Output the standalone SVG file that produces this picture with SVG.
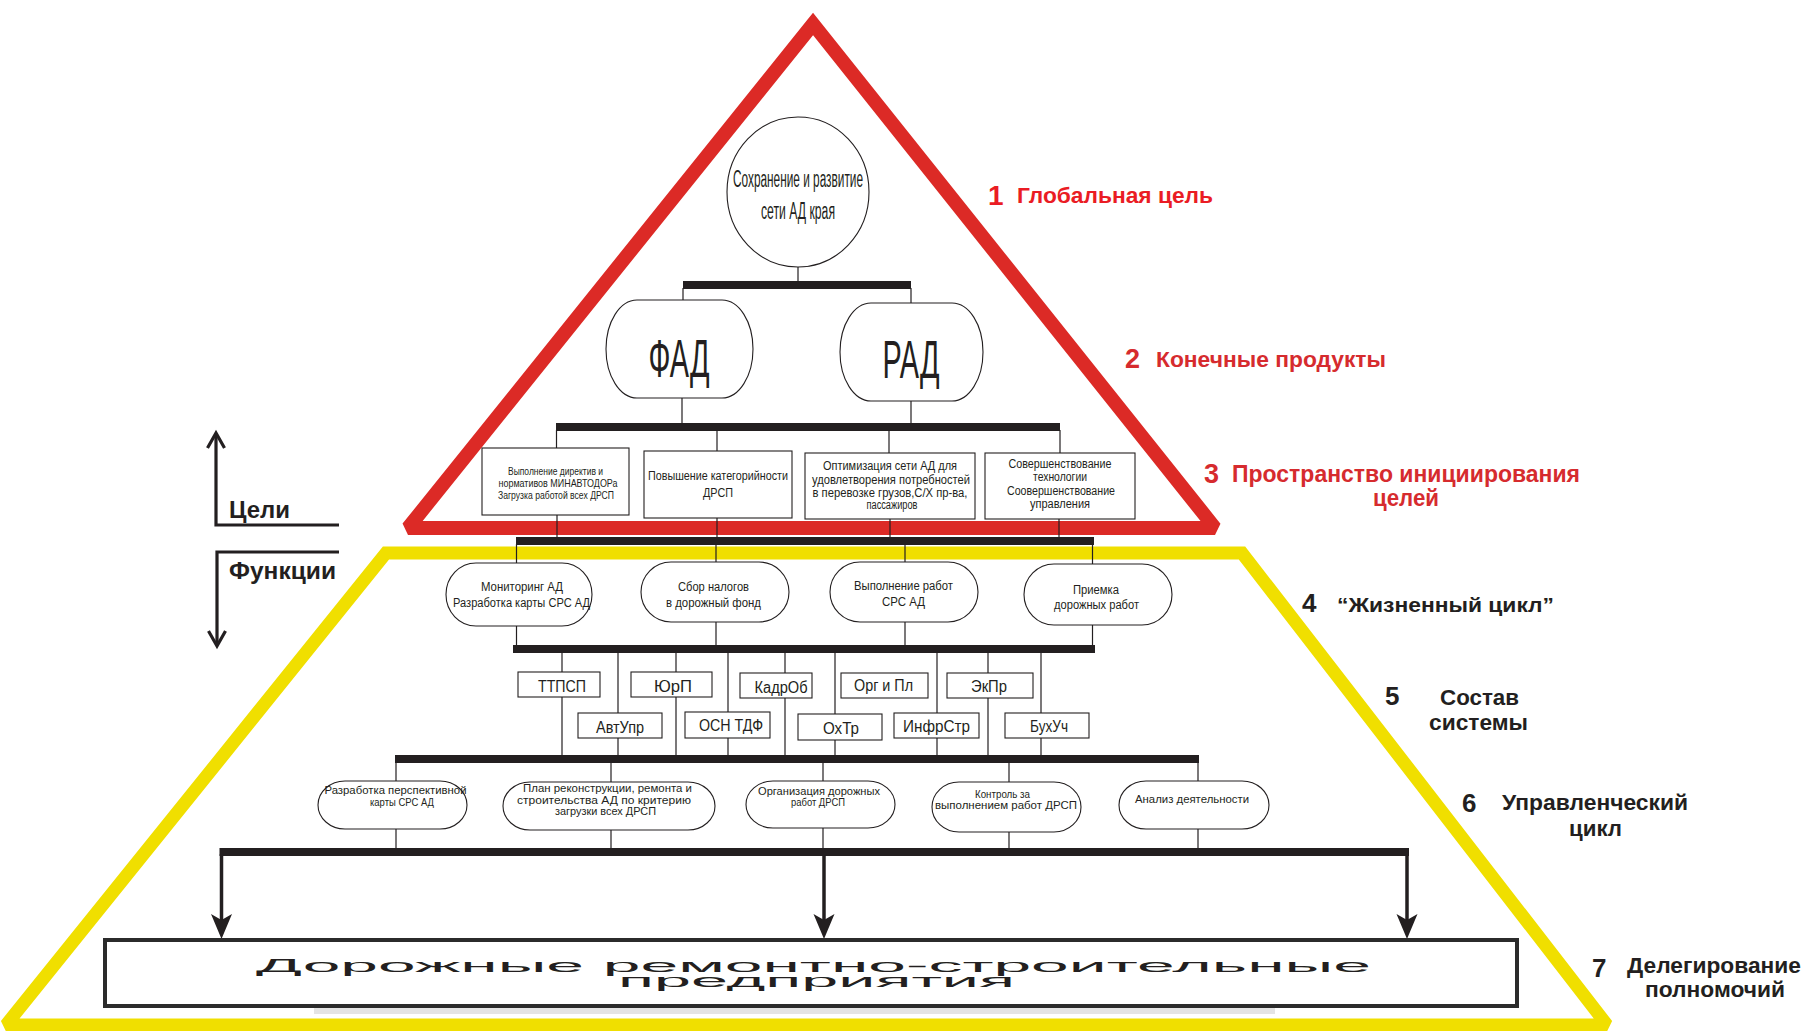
<svg xmlns="http://www.w3.org/2000/svg" xmlns:xlink="http://www.w3.org/1999/xlink" width="1806" height="1031" viewBox="0 0 1806 1031">
<style>
text{font-family:"Liberation Sans",Arial,sans-serif;fill:#231f20}
.n{text-anchor:middle}
.b{font-weight:bold}
.red1{fill:#ea1c24;font-weight:bold}
.red{fill:#d62b2e;font-weight:bold}
.node{fill:#fff;stroke:#231f20;stroke-width:1.1}
.ln{stroke:#231f20;stroke-width:1.2;fill:none}
.bar{fill:#231f20}
.shaft{stroke:#231f20;stroke-width:3.5;fill:none}
.mark{stroke:#231f20;stroke-width:3.2;fill:none}
</style>
<defs>
<path id="ah" d="M0,0 L-10.5,-25 L0,-19 L10.5,-25 Z" fill="#231f20"/>
<path id="openUp" d="M-8.5,15 L0,0 L8.5,15" fill="none" stroke="#231f20" stroke-width="3.2"/>
<path id="openDown" d="M-8.5,-15 L0,0 L8.5,-15" fill="none" stroke="#231f20" stroke-width="3.2"/>
</defs>
<rect width="1806" height="1031" fill="#fff"/>

<g id="frames">
<polygon points="813,24 408,528 1215,528" fill="none" stroke="#dc2a26" stroke-width="14" stroke-miterlimit="2"/>
<polygon points="386,553 1242,553 1607,1025 6,1025" fill="none" stroke="#f0df00" stroke-width="13" stroke-miterlimit="2"/>
</g>

<g id="side-marks">
<path class="mark" d="M216,434 V525 H339"/>
<use xlink:href="#openUp" x="216" y="433"/>
<path class="mark" d="M339,552 H217 V645"/>
<use xlink:href="#openDown" x="217" y="646"/>
<text class="b" x="229" y="518" font-size="23" textLength="61" lengthAdjust="spacingAndGlyphs">Цели</text>
<text class="b" x="229" y="579" font-size="23" textLength="107" lengthAdjust="spacingAndGlyphs">Функции</text>
</g>

<g id="connectors">
<line class="ln" x1="798" y1="267" x2="798" y2="282"/>
<rect class="bar" x="683" y="281" width="228" height="8"/>
<line class="ln" x1="683" y1="288" x2="683" y2="301"/>
<line class="ln" x1="911" y1="288" x2="911" y2="304"/>
<line class="ln" x1="682" y1="397" x2="682" y2="424"/>
<line class="ln" x1="911" y1="400" x2="911" y2="424"/>
<rect class="bar" x="556" y="423" width="504" height="8"/>
<line class="ln" x1="556.5" y1="430" x2="556.5" y2="449"/>
<line class="ln" x1="717" y1="430" x2="717" y2="451"/>
<line class="ln" x1="889" y1="430" x2="889" y2="453"/>
<line class="ln" x1="1060" y1="430" x2="1060" y2="453"/>
<line class="ln" x1="557" y1="515" x2="557" y2="538"/>
<line class="ln" x1="717" y1="517" x2="717" y2="538"/>
<line class="ln" x1="890" y1="518" x2="890" y2="538"/>
<line class="ln" x1="1059" y1="519" x2="1059" y2="538"/>
<rect class="bar" x="516" y="537" width="578" height="8"/>
<line class="ln" x1="516.5" y1="544" x2="516.5" y2="646"/>
<line class="ln" x1="716" y1="544" x2="716" y2="646"/>
<line class="ln" x1="905" y1="544" x2="905" y2="646"/>
<line class="ln" x1="1092.5" y1="544" x2="1092.5" y2="646"/>
<rect class="bar" x="513" y="645" width="582" height="8"/>
<line class="ln" x1="562" y1="652" x2="562" y2="756"/>
<line class="ln" x1="618" y1="652" x2="618" y2="756"/>
<line class="ln" x1="676" y1="652" x2="676" y2="756"/>
<line class="ln" x1="728" y1="652" x2="728" y2="756"/>
<line class="ln" x1="785" y1="652" x2="785" y2="756"/>
<line class="ln" x1="835" y1="652" x2="835" y2="756"/>
<line class="ln" x1="937" y1="652" x2="937" y2="756"/>
<line class="ln" x1="988" y1="652" x2="988" y2="756"/>
<line class="ln" x1="1041" y1="652" x2="1041" y2="756"/>
<rect class="bar" x="395" y="755" width="804" height="8"/>
<line class="ln" x1="396" y1="762" x2="396" y2="849"/>
<line class="ln" x1="611" y1="762" x2="611" y2="849"/>
<line class="ln" x1="823" y1="762" x2="823" y2="849"/>
<line class="ln" x1="1009" y1="762" x2="1009" y2="849"/>
<line class="ln" x1="1198" y1="762" x2="1198" y2="849"/>
<rect class="bar" x="219.5" y="848" width="1189.5" height="8"/>
<line class="shaft" x1="221.5" y1="854" x2="221.5" y2="922"/>
<line class="shaft" x1="824" y1="854" x2="824" y2="922"/>
<line class="shaft" x1="1407" y1="854" x2="1407" y2="922"/>
<use xlink:href="#ah" x="221.5" y="939"/>
<use xlink:href="#ah" x="824" y="939"/>
<use xlink:href="#ah" x="1407" y="939"/>
</g>

<g id="node-goal">
<ellipse class="node" cx="798" cy="192" rx="71" ry="75"/>
<text class="n" x="798" y="187" font-size="23" textLength="130" lengthAdjust="spacingAndGlyphs">Сохранение и развитие</text>
<text class="n" x="798" y="219" font-size="23" textLength="74" lengthAdjust="spacingAndGlyphs">сети АД края</text>
</g>

<g id="node-fad">
<rect class="node" x="606" y="300" width="147" height="98" rx="31" ry="49"/>
<text class="n" x="679" y="377" font-size="54" textLength="61" lengthAdjust="spacingAndGlyphs">ФАД</text>
</g>
<g id="node-rad">
<rect class="node" x="840" y="303" width="143" height="98" rx="31" ry="49"/>
<text class="n" x="911" y="378" font-size="54" textLength="57" lengthAdjust="spacingAndGlyphs">РАД</text>
</g>

<g id="node-goal-a">
<rect class="node" x="482" y="448" width="147" height="67"/>
<text class="n" x="555.5" y="475" font-size="10.5" textLength="95" lengthAdjust="spacingAndGlyphs">Выполнение директив и</text>
<text class="n" x="558" y="487" font-size="10.5" textLength="119" lengthAdjust="spacingAndGlyphs">нормативов МИНАВТОДОРа</text>
<text class="n" x="556" y="499" font-size="10.5" textLength="116" lengthAdjust="spacingAndGlyphs">Загрузка работой всех ДРСП</text>
</g>
<g id="node-goal-b">
<rect class="node" x="644" y="451" width="148" height="67"/>
<text class="n" x="718" y="480" font-size="12.5" textLength="140" lengthAdjust="spacingAndGlyphs">Повышение категорийности</text>
<text class="n" x="718" y="497" font-size="12.5" textLength="30" lengthAdjust="spacingAndGlyphs">ДРСП</text>
</g>
<g id="node-goal-c">
<rect class="node" x="805" y="453" width="170" height="66"/>
<text class="n" x="890" y="470" font-size="12" textLength="134" lengthAdjust="spacingAndGlyphs">Оптимизация сети АД для</text>
<text class="n" x="891" y="484" font-size="12" textLength="158" lengthAdjust="spacingAndGlyphs">удовлетворения потребностей</text>
<text class="n" x="890" y="497" font-size="12" textLength="155" lengthAdjust="spacingAndGlyphs">в перевозке грузов,С/Х пр-ва,</text>
<text class="n" x="892" y="509" font-size="12" textLength="51" lengthAdjust="spacingAndGlyphs">пассажиров</text>
</g>
<g id="node-goal-d">
<rect class="node" x="985" y="453" width="150" height="66"/>
<text class="n" x="1060" y="468" font-size="12" textLength="103" lengthAdjust="spacingAndGlyphs">Совершенствование</text>
<text class="n" x="1060" y="481" font-size="12" textLength="54" lengthAdjust="spacingAndGlyphs">технологии</text>
<text class="n" x="1061" y="495" font-size="12" textLength="108" lengthAdjust="spacingAndGlyphs">Соовершенствование</text>
<text class="n" x="1060" y="508" font-size="12" textLength="60" lengthAdjust="spacingAndGlyphs">управления</text>
</g>

<g id="node-life-1">
<rect class="node" x="446" y="563" width="146" height="63" rx="30" ry="31.5"/>
<text class="n" x="522" y="591" font-size="12.5" textLength="82" lengthAdjust="spacingAndGlyphs">Мониторинг АД</text>
<text class="n" x="521.5" y="607" font-size="12.5" textLength="137" lengthAdjust="spacingAndGlyphs">Разработка карты СРС АД</text>
</g>
<g id="node-life-2">
<rect class="node" x="641" y="562" width="148" height="60" rx="30" ry="30"/>
<text class="n" x="713.5" y="591" font-size="12.5" textLength="71" lengthAdjust="spacingAndGlyphs">Сбор налогов</text>
<text class="n" x="713.5" y="607" font-size="12.5" textLength="95" lengthAdjust="spacingAndGlyphs">в дорожный фонд</text>
</g>
<g id="node-life-3">
<rect class="node" x="830" y="562" width="148" height="60" rx="30" ry="30"/>
<text class="n" x="903.5" y="590" font-size="12.5" textLength="99" lengthAdjust="spacingAndGlyphs">Выполнение работ</text>
<text class="n" x="903.5" y="606" font-size="12.5" textLength="43" lengthAdjust="spacingAndGlyphs">СРС АД</text>
</g>
<g id="node-life-4">
<rect class="node" x="1024" y="564" width="148" height="61" rx="30" ry="30.5"/>
<text class="n" x="1096" y="594" font-size="12.5" textLength="46" lengthAdjust="spacingAndGlyphs">Приемка</text>
<text class="n" x="1096.5" y="609" font-size="12.5" textLength="85" lengthAdjust="spacingAndGlyphs">дорожных работ</text>
</g>

<g id="node-ttpsp"><rect class="node" x="518" y="672" width="82" height="25"/><text class="n" x="562" y="692" font-size="16" textLength="48" lengthAdjust="spacingAndGlyphs">ТТПСП</text></g>
<g id="node-yurp"><rect class="node" x="631" y="672" width="81" height="25"/><text class="n" x="673" y="692" font-size="16" textLength="38" lengthAdjust="spacingAndGlyphs">ЮрП</text></g>
<g id="node-kadrob"><rect class="node" x="740" y="673" width="72" height="25"/><text class="n" x="781" y="693" font-size="16" textLength="53" lengthAdjust="spacingAndGlyphs">КадрОб</text></g>
<g id="node-orgpl"><rect class="node" x="841" y="673" width="87" height="25"/><text class="n" x="883.5" y="691" font-size="16" textLength="59" lengthAdjust="spacingAndGlyphs">Орг и Пл</text></g>
<g id="node-ekpr"><rect class="node" x="947" y="673" width="86" height="25"/><text class="n" x="989" y="692" font-size="16" textLength="36" lengthAdjust="spacingAndGlyphs">ЭкПр</text></g>
<g id="node-avtupr"><rect class="node" x="578" y="713" width="84" height="25"/><text class="n" x="620" y="733" font-size="16" textLength="48" lengthAdjust="spacingAndGlyphs">АвтУпр</text></g>
<g id="node-osntdf"><rect class="node" x="685" y="712" width="85" height="26"/><text class="n" x="731" y="731" font-size="16" textLength="64" lengthAdjust="spacingAndGlyphs">ОСН ТДФ</text></g>
<g id="node-okhtr"><rect class="node" x="798" y="714" width="84" height="26"/><text class="n" x="841" y="734" font-size="16" textLength="36" lengthAdjust="spacingAndGlyphs">ОхТр</text></g>
<g id="node-infrstr"><rect class="node" x="894" y="713" width="85" height="25"/><text class="n" x="936.5" y="732" font-size="16" textLength="67" lengthAdjust="spacingAndGlyphs">ИнфрСтр</text></g>
<g id="node-bukhuch"><rect class="node" x="1005" y="713" width="84" height="25"/><text class="n" x="1049" y="732" font-size="16" textLength="38" lengthAdjust="spacingAndGlyphs">БухУч</text></g>

<g id="node-mgmt-1">
<rect class="node" x="318" y="781" width="149" height="48" rx="27" ry="24"/>
<text class="n" x="395.5" y="794" font-size="10.5" textLength="142" lengthAdjust="spacingAndGlyphs">Разработка перспективной</text>
<text class="n" x="402" y="806" font-size="10.5" textLength="64" lengthAdjust="spacingAndGlyphs">карты СРС АД</text>
</g>
<g id="node-mgmt-2">
<rect class="node" x="503" y="782" width="212" height="48" rx="27" ry="24"/>
<text class="n" x="607.5" y="792" font-size="10.5" textLength="169" lengthAdjust="spacingAndGlyphs">План реконструкции, ремонта  и</text>
<text class="n" x="604" y="804" font-size="10.5" textLength="174" lengthAdjust="spacingAndGlyphs">строительства АД по критерию</text>
<text class="n" x="605.5" y="815" font-size="10.5" textLength="101" lengthAdjust="spacingAndGlyphs">загрузки всех ДРСП</text>
</g>
<g id="node-mgmt-3">
<rect class="node" x="746" y="781" width="149" height="47" rx="27" ry="23.5"/>
<text class="n" x="819" y="795" font-size="10.5" textLength="122" lengthAdjust="spacingAndGlyphs">Организация дорожных</text>
<text class="n" x="818" y="806" font-size="10.5" textLength="54" lengthAdjust="spacingAndGlyphs">работ ДРСП</text>
</g>
<g id="node-mgmt-4">
<rect class="node" x="932" y="782" width="149" height="50" rx="27" ry="25"/>
<text class="n" x="1002.5" y="798" font-size="10.5" textLength="55" lengthAdjust="spacingAndGlyphs">Контроль за</text>
<text class="n" x="1006" y="809" font-size="10.5" textLength="142" lengthAdjust="spacingAndGlyphs">выполнением работ ДРСП</text>
</g>
<g id="node-mgmt-5">
<rect class="node" x="1119" y="781" width="150" height="48" rx="27" ry="24"/>
<text class="n" x="1192" y="803" font-size="10.5" textLength="114" lengthAdjust="spacingAndGlyphs">Анализ деятельности</text>
</g>

<g id="node-enterprises">
<rect x="314" y="1007" width="961" height="7" fill="#e4e4e4"/>
<rect x="105" y="940" width="1412" height="66" fill="#fff" stroke="#2b2b2b" stroke-width="4"/>
<text class="n" x="813.5" y="972" font-size="18" textLength="1115" lengthAdjust="spacingAndGlyphs">Дорожные ремонтно-строительные</text>
<text class="n" x="816.5" y="987" font-size="18" textLength="397" lengthAdjust="spacingAndGlyphs">предприятия</text>
</g>

<g id="labels">
<text class="red1" x="988" y="205" font-size="28">1</text>
<text class="red1" x="1017" y="203" font-size="22" textLength="196" lengthAdjust="spacingAndGlyphs">Глобальная цель</text>
<text class="red" x="1125" y="368" font-size="27">2</text>
<text class="red" x="1156" y="367" font-size="22" textLength="230" lengthAdjust="spacingAndGlyphs">Конечные продукты</text>
<text class="red" x="1204" y="483" font-size="27">3</text>
<text class="red" x="1232" y="482" font-size="23" textLength="348" lengthAdjust="spacingAndGlyphs">Пространство инициирования</text>
<text class="red n" x="1406" y="506" font-size="23" textLength="66" lengthAdjust="spacingAndGlyphs">целей</text>
<text class="b" x="1302" y="612" font-size="26">4</text>
<text class="b" x="1337" y="612" font-size="21" textLength="217" lengthAdjust="spacingAndGlyphs">“Жизненный цикл”</text>
<text class="b" x="1385" y="705" font-size="26">5</text>
<text class="b n" x="1479.5" y="705" font-size="22" textLength="79" lengthAdjust="spacingAndGlyphs">Состав</text>
<text class="b n" x="1478.5" y="730" font-size="22" textLength="99" lengthAdjust="spacingAndGlyphs">системы</text>
<text class="b" x="1462" y="812" font-size="26">6</text>
<text class="b" x="1502" y="810" font-size="22" textLength="186" lengthAdjust="spacingAndGlyphs">Управленческий</text>
<text class="b n" x="1595.5" y="836" font-size="22" textLength="53" lengthAdjust="spacingAndGlyphs">цикл</text>
<text class="b" x="1592" y="977" font-size="26">7</text>
<text class="b" x="1627" y="973" font-size="22" textLength="174" lengthAdjust="spacingAndGlyphs">Делегирование</text>
<text class="b n" x="1715" y="997" font-size="22" textLength="140" lengthAdjust="spacingAndGlyphs">полномочий</text>
</g>
</svg>
